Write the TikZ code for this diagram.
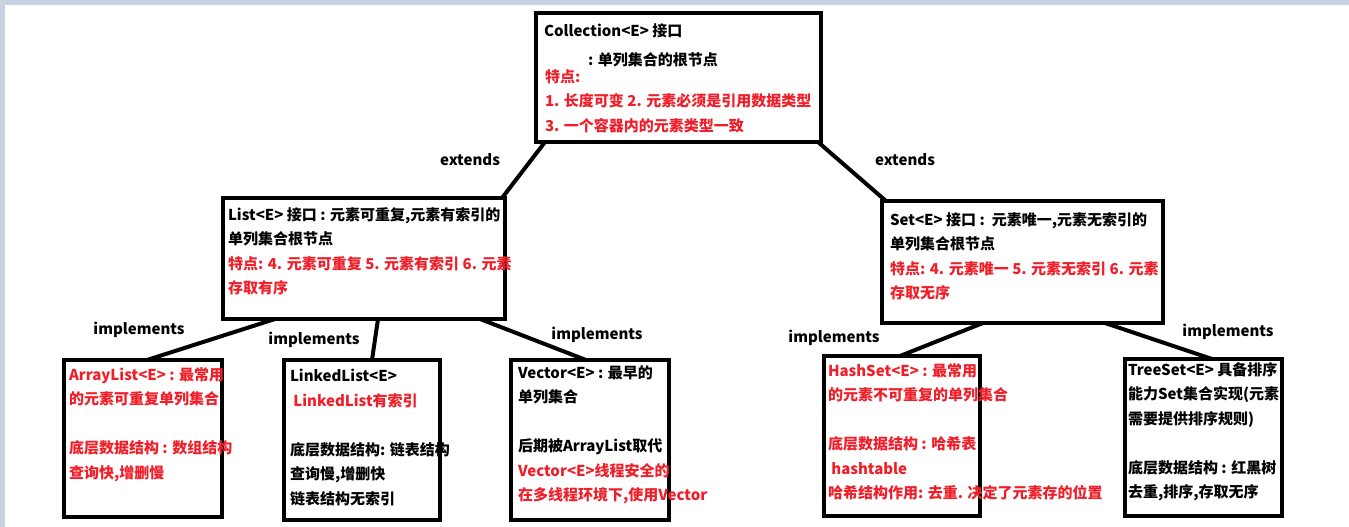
\documentclass[tikz,border=0pt]{standalone}
\usepackage{fontspec}
\setmainfont{Noto Sans CJK SC}
\definecolor{notered}{RGB}{240,30,40}
\definecolor{framebar}{RGB}{200,210,226}

\tikzset{
  box/.style={rectangle, draw=black, line width=4.5pt, inner sep=0, outer sep=0},
  txt/.style={anchor=north west, align=left, inner sep=0, outer sep=0,
    font=\fontsize{15}{24.5}\selectfont\bfseries},
  link/.style={draw=black, line width=4pt},
  lbl/.style={inner sep=0, font=\fontsize{15}{18}\selectfont\bfseries}
}

\begin{document}
\begin{tikzpicture}[x=1pt, y=-1pt]
  \useasboundingbox (0,0) rectangle (1349,527);
  % window frame
  \fill[framebar] (0,0) rectangle (1349,5);
  \fill[framebar] (0,0) rectangle (5,527);

  % root
  \node[box, minimum width=285pt, minimum height=129pt] (coll) at (678.5,77.5) {};
  \node[txt] (colltitle) at ([xshift=8pt, yshift=-10.5pt]coll.north west) {Collection<E> 接口};
  \node[txt] (colldesc) at ([xshift=52pt, yshift=-40pt]coll.north west) {: 单列集合的根节点};
  \node[txt, text=notered] (collfeat) at ([xshift=9pt, yshift=-56.5pt]coll.north west)
    {特点:\\1. 长度可变 2. 元素必须是引用数据类型\\3. 一个容器内的元素类型一致};

  % sub interfaces
  \node[box, minimum width=282pt, minimum height=121pt] (list) at (364,258.5) {};
  \node[txt] (listtext) at ([xshift=5pt, yshift=-9.5pt]list.north west)
    {List<E> 接口 : 元素可重复,元素有索引的\\单列集合根节点\\
     \textcolor{notered}{特点: 4. 元素可重复 5. 元素有索引 6. 元素}\\
     \textcolor{notered}{存取有序}};

  \node[box, minimum width=281pt, minimum height=122pt] (set) at (1022.5,262) {};
  \node[txt] (settext) at ([xshift=8pt, yshift=-11.5pt]set.north west)
    {Set<E> 接口 :\ \ 元素唯一,元素无索引的\\单列集合根节点\\
     \textcolor{notered}{特点: 4. 元素唯一 5. 元素无索引 6. 元素}\\
     \textcolor{notered}{存取无序}};

  % implementations
  \node[box, minimum width=158pt, minimum height=157pt] (arr) at (143,438.5) {};
  \node[txt, text=notered] (arrtext) at ([xshift=5pt, yshift=-7.5pt]arr.north west)
    {ArrayList<E> : 最常用\\的元素可重复单列集合\\[24.5pt]
     底层数据结构 : 数组结构\\查询快,增删慢};

  \node[box, minimum width=156pt, minimum height=160pt] (linked) at (362,440) {};
  \node[txt] (linkedtext) at ([xshift=6pt, yshift=-9.5pt]linked.north west)
    {LinkedList<E>\\\textcolor{notered}{\ LinkedList有索引}\\[24.5pt]
     底层数据结构: 链表结构\\查询慢,增删快\\链表结构无索引};

  \node[box, minimum width=158pt, minimum height=160pt] (vec) at (590,440) {};
  \node[txt] (vectext) at ([xshift=7pt, yshift=-5.5pt]vec.north west)
    {Vector<E> : 最早的\\单列集合\\[24.5pt]
     后期被ArrayList取代\\
     \textcolor{notered}{Vector<E>线程安全的}\\
     \textcolor{notered}{在多线程环境下,使用Vector}};

  \node[box, minimum width=156pt, minimum height=160pt] (hash) at (902,436) {};
  \node[txt, text=notered] (hashtext) at ([xshift=4pt, yshift=-7.5pt]hash.north west)
    {HashSet<E> : 最常用\\的元素不可重复的单列集合\\[24.5pt]
     底层数据结构 : 哈希表\\\ hashtable\\哈希结构作用: 去重. 决定了元素存的位置};

  \node[box, minimum width=157pt, minimum height=157pt] (tree) at (1203.5,437.5) {};
  \node[txt] (treetext) at ([xshift=3pt, yshift=-3.5pt]tree.north west)
    {TreeSet<E> 具备排序\\能力Set集合实现(元素\\需要提供排序规则)\\[24.5pt]
     底层数据结构 : 红黑树\\去重,排序,存取无序};

  % connectors
  \draw[link] ([xshift=9pt]coll.south west) -- ([xshift=-3pt]list.north east);
  \draw[link] ([xshift=-3pt]coll.south east) -- ([xshift=4pt]set.north west);
  \draw[link] ([xshift=52pt]list.south west) -- ([xshift=83pt]arr.north west);
  \draw[link] ([xshift=155pt]list.south west) -- ([xshift=88pt]linked.north west);
  \draw[link] ([xshift=257pt]list.south west) -- ([xshift=75pt]vec.north west);
  \draw[link] ([xshift=101pt]set.south west) -- ([xshift=76pt]hash.north west);
  \draw[link] ([xshift=223pt]set.south west) -- ([xshift=87pt]tree.north west);

  % labels
  \node[lbl] (extl) at (470,160) {extends};
  \node[lbl] (extr) at (905,160) {extends};
  \node[lbl] (impa) at (139,330) {implements};
  \node[lbl] (impb) at (314,340) {implements};
  \node[lbl] (impc) at (597,335) {implements};
  \node[lbl] (impd) at (834,338) {implements};
  \node[lbl] (impe) at (1228,332) {implements};
\end{tikzpicture}
\end{document}
